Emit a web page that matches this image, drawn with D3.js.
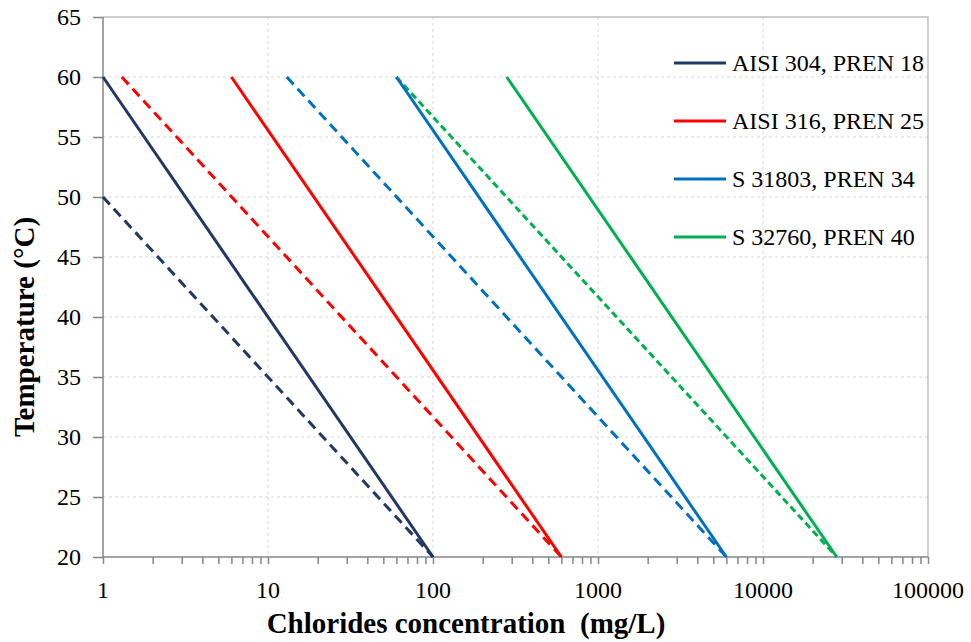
<!DOCTYPE html>
<html>
<head>
<meta charset="utf-8">
<script src="https://cdn.jsdelivr.net/npm/d3@7"></script>
<style>
  body { margin: 0; background: #fff; }
  text { font-family: "Liberation Serif", "Times New Roman", serif; fill: #000; }
</style>
</head>
<body>
<svg id="chart" width="971" height="642"></svg>
<script>
const seriesNames = ["AISI 304, PREN 18", "AISI 316, PREN 25", "S 31803, PREN 34", "S 32760, PREN 40"];
const seriesColors = ["#1f3864", "#ff0000", "#0070c0", "#00b050"];
// solid line: [chloride, temperature] at start and end
const solidChloride = [[1, 100], [6, 600], [60, 6000], [280, 28000]];
const solidTemp = [[60, 20], [60, 20], [60, 20], [60, 20]];
const dashedChloride = [[1, 100], [1.3, 600], [13, 6000], [60, 28000]];
const dashedTemp = [[50, 20], [60, 20], [60, 20], [60, 20]];
const dashStyle = ["10,6", "10,6", "10,6", "7,4"];
const xTicks = [1, 10, 100, 1000, 10000, 100000];
const yTicks = [20, 25, 30, 35, 40, 45, 50, 55, 60, 65];

const svg = d3.select('#chart');
const plotLeft = 103, plotRight = 928, plotTop = 17, plotBottom = 557;

const x = d3.scaleLog().domain([1, 100000]).range([plotLeft, plotRight]);
const y = d3.scaleLinear().domain([20, 65]).range([plotBottom, plotTop]);

// grid
svg.append('g').selectAll('line')
  .data(yTicks.filter(t => t > 20 && t < 65))
  .enter().append('line')
  .attr('x1', plotLeft).attr('x2', plotRight)
  .attr('y1', d => y(d)).attr('y2', d => y(d))
  .attr('stroke', '#d9d9d9').attr('stroke-dasharray', '3,3');
svg.append('g').selectAll('line')
  .data(xTicks.filter(t => t > 1 && t < 100000))
  .enter().append('line')
  .attr('x1', d => x(d)).attr('x2', d => x(d))
  .attr('y1', plotTop).attr('y2', plotBottom)
  .attr('stroke', '#d9d9d9').attr('stroke-dasharray', '3,3');

// frame top / right
svg.append('path')
  .attr('d', `M${plotLeft},${plotTop}H${plotRight}V${plotBottom}`)
  .attr('fill', 'none').attr('stroke', '#bfbfbf').attr('stroke-width', 1.5);

// axes
const minorTicks = d3.range(0, 5)
  .flatMap(e => d3.range(1, 10).map(m => m * Math.pow(10, e)))
  .concat([100000]);
const xAxis = d3.axisBottom(x).tickValues(minorTicks).tickSize(7).tickFormat('');
const gx = svg.append('g').attr('transform', `translate(0,${plotBottom})`).call(xAxis);
gx.selectAll('path,line').attr('stroke', '#868686').attr('stroke-width', 1.5);
gx.select('.domain').attr('d', `M${plotLeft},0H${plotRight}`);

const yAxis = d3.axisLeft(y).tickValues(yTicks).tickSize(10).tickFormat('');
const gy = svg.append('g').attr('transform', `translate(${plotLeft},0)`).call(yAxis);
gy.selectAll('path,line').attr('stroke', '#868686').attr('stroke-width', 1.5);
gy.select('.domain').attr('d', `M0,${plotTop}V${plotBottom}`);

svg.append('g').selectAll('text')
  .data(xTicks).enter().append('text')
  .attr('x', d => x(d)).attr('y', 598)
  .attr('text-anchor', 'middle').attr('font-size', 24)
  .text(d => d);
svg.append('g').selectAll('text')
  .data(yTicks).enter().append('text')
  .attr('x', 81).attr('y', d => y(d) + 8)
  .attr('text-anchor', 'end').attr('font-size', 24)
  .text(d => d);

// titles
svg.append('text')
  .attr('x', 466).attr('y', 633)
  .attr('text-anchor', 'middle').attr('font-size', 29).attr('font-weight', 'bold')
  .attr('xml:space', 'preserve')
  .text('Chlorides concentration  (mg/L)');
svg.append('text')
  .attr('transform', 'translate(34,327) rotate(-90)')
  .attr('text-anchor', 'middle').attr('font-size', 29).attr('font-weight', 'bold')
  .text('Temperature (°C)');

// series
const line = d3.line().x(d => x(d[0])).y(d => y(d[1]));
seriesNames.forEach((name, i) => {
  const dashed = dashedChloride[i].map((c, k) => [c, dashedTemp[i][k]]);
  svg.append('path').datum(dashed)
    .attr('d', line).attr('fill', 'none')
    .attr('stroke', seriesColors[i]).attr('stroke-width', 3)
    .attr('stroke-dasharray', dashStyle[i]);
});
seriesNames.forEach((name, i) => {
  const solid = solidChloride[i].map((c, k) => [c, solidTemp[i][k]]);
  svg.append('path').datum(solid)
    .attr('d', line).attr('fill', 'none')
    .attr('stroke', seriesColors[i]).attr('stroke-width', 3);
});

// legend
const legend = svg.append('g').selectAll('g')
  .data(seriesNames).enter().append('g')
  .attr('transform', (d, i) => `translate(674,${63 + i * 58})`);
legend.append('line')
  .attr('x1', 0).attr('x2', 52)
  .attr('stroke', (d, i) => seriesColors[i]).attr('stroke-width', 3);
legend.append('text')
  .attr('x', 58).attr('y', 8).attr('font-size', 24)
  .text(d => d);
</script>
</body>
</html>
